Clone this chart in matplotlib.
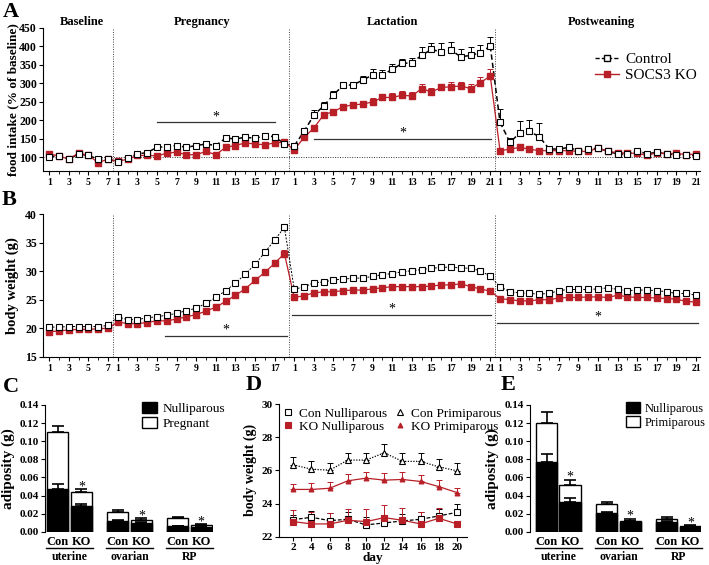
import matplotlib
matplotlib.use('Agg')
import matplotlib.pyplot as plt
import numpy as np
from matplotlib.lines import Line2D
from matplotlib.patches import Patch

plt.rcParams['font.family'] = ['Liberation Serif', 'DejaVu Serif']
plt.rcParams['font.weight'] = 'bold'
plt.rcParams['axes.linewidth'] = 0.8

RED = '#b81f27'

# ---------------- Panels A / B data ----------------
phases = ['Baseline', 'Pregnancy', 'Lactation', 'Postweaning']
phase_days = [7, 18, 21, 21]

food_con = [102, 104, 95, 109, 105, 95, 95,
            88, 97, 109, 113, 127, 129, 132, 127, 132, 136, 132, 152, 150, 154, 152, 158, 156, 136,
            131, 170, 214, 239, 269, 295, 296, 309, 323, 323, 338, 354, 356, 376, 392, 385, 390, 372, 376, 383, 401,
            195, 141, 165, 170, 156, 123, 122, 127, 118, 122, 125, 116, 109, 109, 118, 109, 114, 109, 107, 107, 104]
food_con_err = [4, 3, 5, 4, 3, 5, 4,
                4, 4, 5, 5, 7, 8, 8, 7, 7, 7, 7, 9, 8, 8, 8, 7, 7, 6,
                8, 10, 15, 10, 10, 10, 8, 12, 15, 14, 15, 12, 14, 22, 18, 25, 22, 20, 22, 20, 25,
                36, 12, 34, 30, 36, 5, 4, 5, 4, 4, 4, 4, 4, 4, 4, 4, 4, 4, 4, 4, 4]
food_ko = [109, 104, 95, 112, 105, 86, 95,
           89, 95, 105, 105, 104, 111, 114, 107, 107, 116, 107, 127, 132, 139, 136, 134, 139, 141,
           120, 154, 179, 215, 224, 237, 242, 244, 250, 262, 262, 268, 266, 286, 277, 289, 291, 293, 286, 302, 320,
           118, 122, 127, 122, 118, 118, 118, 118, 116, 116, 125, 116, 113, 111, 111, 105, 113, 109, 111, 107, 109]
food_ko_err = [4, 3, 4, 5, 3, 4, 3,
               3, 3, 4, 4, 4, 5, 5, 5, 5, 5, 5, 6, 6, 6, 6, 6, 6, 6,
               5, 8, 8, 6, 6, 6, 7, 8, 10, 10, 12, 12, 10, 12, 10, 10, 13, 10, 12, 15, 20,
               3, 3, 3, 3, 3, 3, 3, 3, 3, 3, 3, 3, 3, 3, 3, 3, 3, 3, 3, 3, 3]

bw_con = [20.2, 20.2, 20.3, 20.3, 20.3, 20.3, 20.5,
          22.0, 21.5, 21.5, 21.85, 22.0, 22.3, 22.6, 23.1, 23.5, 24.4, 25.4, 26.6, 27.9, 29.5, 31.2, 33.3, 35.5, 37.7,
          26.9, 27.2, 28.0, 28.1, 28.5, 28.6, 28.8, 28.8, 29.1, 29.4, 29.6, 29.9, 30.1, 30.3, 30.5, 30.7, 30.7, 30.6, 30.5, 30.1, 29.1,
          27.3, 26.4, 26.2, 26.1, 26.0, 26.1, 26.6, 26.8, 26.8, 26.8, 26.9, 27.1, 26.8, 26.6, 26.7, 26.7, 26.6, 26.4, 26.1, 26.1, 25.8]
bw_con_err = [0.2, 0.2, 0.2, 0.2, 0.2, 0.2, 0.2,
              0.2, 0.2, 0.2, 0.2, 0.2, 0.2, 0.2, 0.2, 0.2, 0.3, 0.3, 0.3, 0.3, 0.3, 0.4, 0.4, 0.5, 0.6,
              0.3, 0.3, 0.3, 0.3, 0.3, 0.3, 0.3, 0.3, 0.3, 0.3, 0.3, 0.3, 0.3, 0.3, 0.3, 0.3, 0.3, 0.3, 0.3, 0.3, 0.3,
              0.3, 0.3, 0.3, 0.3, 0.3, 0.3, 0.3, 0.3, 0.3, 0.3, 0.3, 0.3, 0.3, 0.3, 0.3, 0.3, 0.3, 0.3, 0.3, 0.3, 0.3]
bw_ko = [19.4, 19.5, 19.7, 19.8, 19.8, 19.9, 20.0,
         21.1, 20.8, 20.8, 21.0, 21.3, 21.3, 21.6, 22.0, 22.4, 23.0, 23.7, 24.7, 25.8, 26.9, 28.4, 29.8, 31.4, 33.1,
         25.4, 25.7, 26.2, 26.4, 26.4, 26.6, 26.7, 26.7, 26.9, 27.1, 27.3, 27.3, 27.3, 27.3, 27.4, 27.6, 27.6, 27.8, 27.3, 26.9, 26.5,
         25.2, 25.0, 24.8, 24.8, 25.0, 25.0, 25.3, 25.4, 25.4, 25.5, 25.5, 25.4, 25.8, 25.5, 25.4, 25.4, 25.3, 25.2, 25.1, 24.7, 24.6]
bw_ko_err = [0.2, 0.2, 0.2, 0.2, 0.2, 0.2, 0.2,
             0.2, 0.2, 0.2, 0.2, 0.2, 0.2, 0.2, 0.2, 0.2, 0.2, 0.2, 0.3, 0.3, 0.3, 0.3, 0.4, 0.5, 0.7,
             0.3, 0.3, 0.3, 0.3, 0.3, 0.3, 0.3, 0.3, 0.3, 0.3, 0.3, 0.3, 0.3, 0.3, 0.3, 0.3, 0.3, 0.3, 0.3, 0.3, 0.3,
             0.3, 0.3, 0.3, 0.3, 0.3, 0.3, 0.3, 0.3, 0.3, 0.3, 0.3, 0.3, 0.3, 0.3, 0.3, 0.3, 0.3, 0.3, 0.3, 0.3, 0.3]

# significance bars: (start index, end index, y, asterisk y)
sig_A = [(11, 23, 195, 210), (27, 45.1, 150, 167)]
sig_B = [(11.8, 24.3, 18.7, 19.7), (24.8, 45.1, 22.25, 23.4), (45.7, 66.2, 21.0, 22.0)]

# ---------------- Panels C / E data ----------------
fat_depots = ['uterine', 'ovarian', 'RP']
geno = ['Con', 'KO']
C_nulli = [0.047, 0.028, 0.012, 0.010, 0.0063, 0.0052]
C_nulli_err = [0.0057, 0.003, 0.001, 0.001, 0.0005, 0.0005]
C_preg = [0.1105, 0.0442, 0.0221, 0.0133, 0.0147, 0.0070]
C_preg_err = [0.0065, 0.0026, 0.0019, 0.0014, 0.0013, 0.0010]

E_nulli = [0.0766, 0.0332, 0.0203, 0.0110, 0.011, 0.0052]
E_nulli_err = [0.0089, 0.0038, 0.0017, 0.0010, 0.0010, 0.0005]
E_primi = [0.1205, 0.052, 0.0302, 0.0122, 0.014, 0.0063]
E_primi_err = [0.0121, 0.0055, 0.0028, 0.0018, 0.0018, 0.0007]

# ---------------- Panel D data ----------------
D_days = [2, 4, 6, 8, 10, 12, 14, 16, 18, 20]
D_con_primi = [26.33, 26.07, 26.01, 26.62, 26.62, 27.06, 26.54, 26.54, 26.21, 25.97]
D_con_primi_err = [0.5, 0.5, 0.45, 0.45, 0.45, 0.5, 0.5, 0.5, 0.5, 0.5]
D_ko_primi = [24.85, 24.85, 24.92, 25.37, 25.53, 25.41, 25.45, 25.33, 25.02, 24.66]
D_ko_primi_err = [0.35, 0.4, 0.4, 0.4, 0.4, 0.45, 0.45, 0.4, 0.4, 0.3]
D_con_nulli = [23.03, 23.17, 22.97, 23.05, 22.71, 22.83, 22.95, 23.05, 23.25, 23.47]
D_con_nulli_err = [0.3, 0.35, 0.45, 0.45, 0.45, 0.45, 0.4, 0.45, 0.45, 0.5]
D_ko_nulli = [22.91, 22.77, 22.77, 22.99, 22.91, 23.15, 22.99, 22.77, 23.11, 22.77]
D_ko_nulli_err = [0.7, 0.7, 0.65, 0.7, 0.75, 0.75, 0.75, 0.7, 0.6, 0.15]

# ---------------- figure ----------------
W, H = 709, 565
fig = plt.figure(figsize=(W / 100, H / 100), dpi=100)


def ax_px(l, t, r, b):
    return fig.add_axes([l / W, 1 - b / H, (r - l) / W, (b - t) / H])


def style(ax):
    ax.spines['top'].set_visible(False)
    ax.spines['right'].set_visible(False)
    ax.tick_params(direction='out', width=0.8)


x_all = np.arange(sum(phase_days))
bounds = np.cumsum(phase_days)[:-1] - 0.5
starts = np.concatenate([[0], np.cumsum(phase_days)[:-1]])

ticks_major = []
tick_labels = []
for s, n in zip(starts, phase_days):
    for d in range(1, n + 1, 2):
        ticks_major.append(s + d - 1)
        tick_labels.append(str(d))


def time_panel(ax, con, con_err, ko, ko_err, ylim, yticks, con_ls, con_lw, sig):
    style(ax)
    ax.set_xlim(-0.6, 66.4)
    ax.set_ylim(*ylim)
    ax.set_yticks(yticks)
    ax.set_xticks(ticks_major)
    ax.set_xticklabels(tick_labels, fontsize=7)
    ax.set_xticks(x_all, minor=True)
    ax.tick_params(axis='x', which='major', length=3, pad=2)
    ax.tick_params(axis='x', which='minor', length=2)
    ax.tick_params(axis='y', labelsize=8.5, length=3, pad=1.5)
    for b in bounds:
        ax.axvline(b, color='#444444', lw=0.7, ls=(0, (1, 1.5)), zorder=1)
    ax.errorbar(x_all, con, yerr=[np.zeros(len(con)), con_err], fmt='none', ecolor='black',
                elinewidth=0.7, capsize=2.5, capthick=0.7, zorder=2)
    ax.errorbar(x_all, ko, yerr=[np.zeros(len(ko)), ko_err], fmt='none', ecolor=RED,
                elinewidth=0.7, capsize=2.5, capthick=0.7, zorder=2)
    for s, n in zip(starts, phase_days):
        sl = slice(s, s + n)
        ax.plot(x_all[sl], np.array(con)[sl], color='black', ls=con_ls, lw=con_lw, zorder=3)
        ax.plot(x_all[sl], np.array(ko)[sl], color=RED, lw=0.9, zorder=3)
    for s in starts[1:]:
        ax.plot([s - 1, s], [con[s - 1], con[s]], color='black', ls=con_ls, lw=con_lw, zorder=3)
        ax.plot([s - 1, s], [ko[s - 1], ko[s]], color=RED, lw=0.9, zorder=3)
    ax.plot(x_all, con, ls='none', marker='s', ms=4.4, mfc='white', mec='black', mew=0.8, zorder=5)
    ax.plot(x_all, ko, ls='none', marker='s', ms=3.8, mfc=RED, mec=RED, zorder=4)
    for (a, b, y, ya) in sig:
        ax.plot([a, b], [y, y], color='#333333', lw=0.9, zorder=2)
        ax.text((a + b) / 2, ya, '*', ha='center', va='center', fontsize=10, fontweight='normal')


# Panel A
axA = ax_px(43.3, 28, 700, 171)
time_panel(axA, food_con, food_con_err, food_ko, food_ko_err, (63, 450),
           np.arange(100, 451, 50), (0, (3.5, 2)), 1.1, sig_A)
axA.axhline(100, color='#333333', lw=0.7, ls=(0, (1, 1.5)), zorder=1)
axA.set_ylabel('food intake (% of baseline)', fontsize=9.5, fontweight='bold')
axA.yaxis.set_label_coords(-0.037, 0.5)
title_x = [82, 202, 392, 601]
for t, xp in zip(phases, title_x):
    fig.text(xp / W, 1 - 22 / H, t, ha='center', va='center', fontsize=9, fontweight='bold')
legA = [Line2D([], [], color='black', ls=(0, (3, 1.5)), lw=1.0, marker='s', ms=4.4, mfc='white', mec='black'),
        Line2D([], [], color=RED, lw=1.0, marker='s', ms=3.8, mfc=RED, mec=RED)]
axA.legend(legA, ['Control', 'SOCS3 KO'], loc='upper left', bbox_to_anchor=(0.84, 0.83), frameon=False,
           prop={'weight': 'normal', 'size': 11}, handlelength=1.6, handletextpad=0.4,
           borderaxespad=0, borderpad=0, labelspacing=0.15)

# Panel B
axB = ax_px(43.3, 214.3, 700, 356.7)
time_panel(axB, bw_con, bw_con_err, bw_ko, bw_ko_err, (15, 40),
           np.arange(15, 41, 5), (0, (2, 1.5)), 0.7, sig_B)
axB.set_ylabel('body weight (g)', fontsize=10.5, fontweight='bold')
axB.yaxis.set_label_coords(-0.037, 0.5)

# Panel letters
for lab, xp, yp in [('A', 3, 12), ('B', 2, 200), ('C', 3, 387), ('D', 246, 385), ('E', 501, 385)]:
    fig.text(xp / W, 1 - yp / H, lab, ha='left', va='center', fontsize=16, fontweight='bold')

bar_pos = [0, 1, 2.55, 3.55, 5.1, 6.1]


def bar_panel(ax, low, low_err, high, high_err, high_name, xlim, leg_x, leg_size):
    ax.spines['top'].set_visible(False)
    ax.spines['right'].set_visible(False)
    ax.spines['bottom'].set_visible(False)
    ax.set_xlim(*xlim)
    ax.set_ylim(0, 0.14)
    ax.set_yticks(np.arange(0, 0.141, 0.02))
    ax.set_yticklabels([f'{v:.2f}' for v in np.arange(0, 0.141, 0.02)])
    ax.tick_params(axis='y', labelsize=8, length=3, pad=1.5)
    ax.errorbar(bar_pos, high, yerr=[np.zeros(6), high_err], fmt='none', ecolor='black',
                elinewidth=1.2, capsize=4, capthick=1.2, zorder=1)
    ax.bar(bar_pos, high, width=0.9, color='white', edgecolor='black', lw=1.0, zorder=2)
    ax.errorbar(bar_pos, low, yerr=[np.zeros(6), low_err], fmt='none', ecolor='black',
                elinewidth=1.2, capsize=4, capthick=1.2, zorder=3)
    ax.bar(bar_pos, low, width=0.9, color='black', edgecolor='black', lw=1.0, zorder=4)
    ax.set_xticks(bar_pos)
    ax.set_xticklabels(geno * 3, fontsize=9)
    ax.tick_params(axis='x', length=0, pad=3)
    for i in range(3):
        a, b = bar_pos[2 * i] - 0.5, bar_pos[2 * i + 1] + 0.5
        ax.plot([a, b], [-0.0177, -0.0177], color='black', lw=1.0, clip_on=False)
        ax.text((bar_pos[2 * i] + bar_pos[2 * i + 1]) / 2, -0.0285, fat_depots[i], ha='center',
                va='center', fontsize=8.5)
    for i in [1, 3, 5]:
        top = high[i] + high_err[i]
        ax.text(bar_pos[i], top + 0.003, '*', ha='center', va='center', fontsize=10,
                fontweight='normal')
    h = [Patch(facecolor='black', edgecolor='black'), Patch(facecolor='white', edgecolor='black')]
    ax.legend(h, ['Nulliparous', high_name], loc='upper left', bbox_to_anchor=(leg_x, 1.02),
              frameon=False, prop={'weight': 'normal', 'size': leg_size}, handlelength=1.1,
              handleheight=0.9, handletextpad=0.4, borderaxespad=0, borderpad=0, labelspacing=0.1)
    ax.set_ylabel('adiposity (g)', fontsize=11, fontweight='bold')
    ax.yaxis.set_label_coords(-0.18, 0.5)


axC = ax_px(45, 405, 213, 531.7)
bar_panel(axC, C_nulli, C_nulli_err, C_preg, C_preg_err, 'Pregnant', (-0.55, 6.6), 0.58, 9.5)

axE = ax_px(530, 405, 701, 531.7)
bar_panel(axE, E_nulli, E_nulli_err, E_primi, E_primi_err, 'Primiparous', (-0.7, 6.55), 0.56, 9)

# Panel D
axD = ax_px(279.3, 404, 467, 536.7)
style(axD)
axD.set_xlim(0.46, 21.1)
axD.set_ylim(22, 30)
axD.set_xticks(D_days)
axD.set_yticks(np.arange(22, 31, 2))
axD.tick_params(labelsize=8, length=3, pad=1.5)
series = [
    (D_con_primi, D_con_primi_err, 'black', (0, (1, 1.2)), '^', 'white', 4.2, 'Con Primiparous'),
    (D_ko_primi, D_ko_primi_err, RED, '-', '^', RED, 3.5, 'KO Primiparous'),
    (D_con_nulli, D_con_nulli_err, 'black', (0, (3, 1.5)), 's', 'white', 4.2, 'Con Nulliparous'),
    (D_ko_nulli, D_ko_nulli_err, RED, '-', 's', RED, 3.8, 'KO Nulliparous'),
]
handles = {}
for vals, err, c, ls, m, mf, ms, name in series:
    axD.errorbar(D_days, vals, yerr=[np.zeros(len(vals)), err], fmt='none', ecolor=c,
                 elinewidth=0.7, capsize=2.5, capthick=0.7, zorder=2)
    ln, = axD.plot(D_days, vals, color=c, ls=ls, lw=0.9, marker=m, ms=ms, mfc=mf, mec=c,
                   mew=0.8, zorder=3)
    handles[name] = ln
order = ['Con Nulliparous', 'KO Nulliparous', 'Con Primiparous', 'KO Primiparous']
legD = [Line2D([], [], color=handles[n].get_color(), ls='none', marker=handles[n].get_marker(),
               ms=handles[n].get_markersize(), mfc=handles[n].get_markerfacecolor(),
               mec=handles[n].get_markeredgecolor(), mew=0.8) for n in order]
axD.legend(legD, order, ncol=2, loc='upper left', bbox_to_anchor=(0.02, 0.975), frameon=False,
           prop={'weight': 'normal', 'size': 9.5}, handlelength=0.8, handletextpad=0.4,
           columnspacing=0.6, borderaxespad=0, borderpad=0, labelspacing=0.1)
axD.set_xlabel('day', fontsize=9.5, fontweight='bold', labelpad=0)
axD.set_ylabel('body weight (g)', fontsize=10, fontweight='bold')
axD.yaxis.set_label_coords(-0.12, 0.5)

fig.savefig('out.png', dpi=100)
